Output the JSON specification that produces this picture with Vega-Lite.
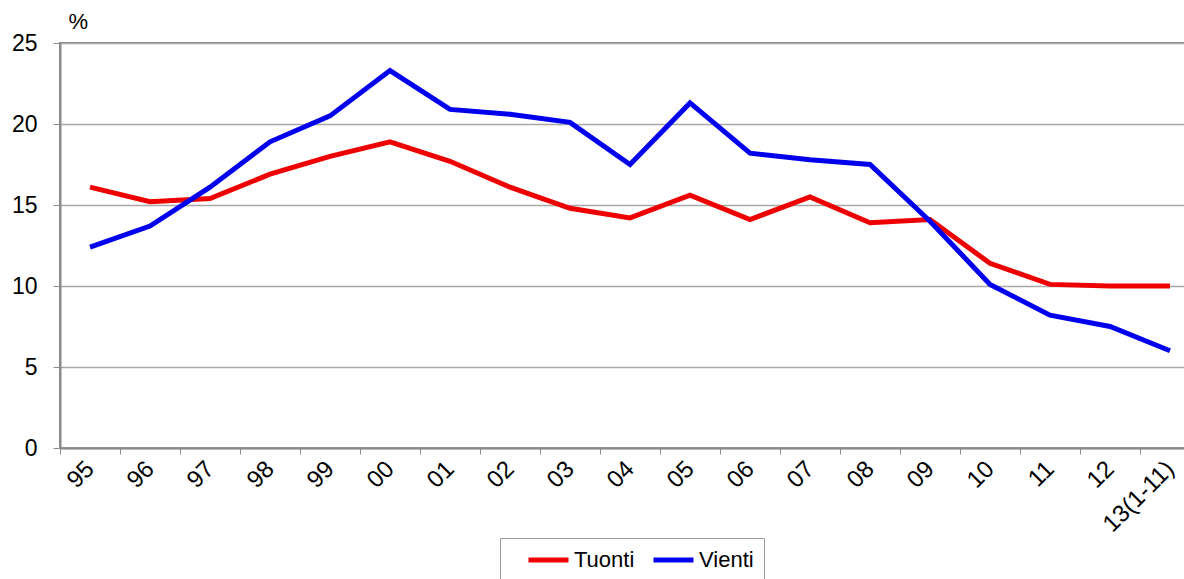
{
  "$schema": "https://vega.github.io/schema/vega-lite/v6.json",
  "autosize": {"type": "none"},
  "padding": {"left": 60, "top": 43, "right": 0, "bottom": 131},
  "width": 1140,
  "height": 405,
  "config": {
    "font": "Liberation Sans",
    "view": {"stroke": "#8a8a8a", "strokeWidth": 2}
  },
  "data": {
    "values": [
      {"year": "95", "series": "Tuonti", "value": 16.1},
      {"year": "96", "series": "Tuonti", "value": 15.2},
      {"year": "97", "series": "Tuonti", "value": 15.4},
      {"year": "98", "series": "Tuonti", "value": 16.9},
      {"year": "99", "series": "Tuonti", "value": 18.0},
      {"year": "00", "series": "Tuonti", "value": 18.9},
      {"year": "01", "series": "Tuonti", "value": 17.7},
      {"year": "02", "series": "Tuonti", "value": 16.1},
      {"year": "03", "series": "Tuonti", "value": 14.8},
      {"year": "04", "series": "Tuonti", "value": 14.2},
      {"year": "05", "series": "Tuonti", "value": 15.6},
      {"year": "06", "series": "Tuonti", "value": 14.1},
      {"year": "07", "series": "Tuonti", "value": 15.5},
      {"year": "08", "series": "Tuonti", "value": 13.9},
      {"year": "09", "series": "Tuonti", "value": 14.1},
      {"year": "10", "series": "Tuonti", "value": 11.4},
      {"year": "11", "series": "Tuonti", "value": 10.1},
      {"year": "12", "series": "Tuonti", "value": 10.0},
      {"year": "13(1-11)", "series": "Tuonti", "value": 10.0},
      {"year": "95", "series": "Vienti", "value": 12.4},
      {"year": "96", "series": "Vienti", "value": 13.7},
      {"year": "97", "series": "Vienti", "value": 16.1},
      {"year": "98", "series": "Vienti", "value": 18.9},
      {"year": "99", "series": "Vienti", "value": 20.5},
      {"year": "00", "series": "Vienti", "value": 23.3},
      {"year": "01", "series": "Vienti", "value": 20.9},
      {"year": "02", "series": "Vienti", "value": 20.6},
      {"year": "03", "series": "Vienti", "value": 20.1},
      {"year": "04", "series": "Vienti", "value": 17.5},
      {"year": "05", "series": "Vienti", "value": 21.3},
      {"year": "06", "series": "Vienti", "value": 18.2},
      {"year": "07", "series": "Vienti", "value": 17.8},
      {"year": "08", "series": "Vienti", "value": 17.5},
      {"year": "09", "series": "Vienti", "value": 14.0},
      {"year": "10", "series": "Vienti", "value": 10.1},
      {"year": "11", "series": "Vienti", "value": 8.2},
      {"year": "12", "series": "Vienti", "value": 7.5},
      {"year": "13(1-11)", "series": "Vienti", "value": 6.0}
    ]
  },
  "mark": {"type": "line", "strokeWidth": 5, "strokeJoin": "miter"},
  "encoding": {
    "x": {
      "field": "year",
      "type": "ordinal",
      "sort": null,
      "scale": {"type": "band", "paddingInner": 0, "paddingOuter": 0},
      "axis": {
        "title": null,
        "tickBand": "extent",
        "labelAngle": -45,
        "labelAlign": "right",
        "labelBaseline": "middle",
        "labelFontSize": 24,
        "labelColor": "#000",
        "labelPadding": 11,
        "labelOffset": 0,
        "domainColor": "#8a8a8a",
        "domainWidth": 2,
        "tickColor": "#8a8a8a",
        "tickSize": 6,
        "grid": false
      }
    },
    "y": {
      "field": "value",
      "type": "quantitative",
      "scale": {"domain": [0, 25], "nice": false},
      "axis": {
        "values": [0, 5, 10, 15, 20, 25],
        "title": "%",
        "titleAngle": 0,
        "titleAlign": "left",
        "titleBaseline": "middle",
        "titleX": 8,
        "titleY": -22,
        "titleFontSize": 22,
        "titleFontWeight": "normal",
        "titleColor": "#000",
        "labelFontSize": 23,
        "labelColor": "#000",
        "labelPadding": 16,
        "domainColor": "#8a8a8a",
        "domainWidth": 2,
        "tickColor": "#8a8a8a",
        "tickSize": 7,
        "gridColor": "#a8a8a8",
        "gridWidth": 1.5
      }
    },
    "color": {
      "field": "series",
      "type": "nominal",
      "scale": {"domain": ["Tuonti", "Vienti"], "range": ["#ee0000", "#0000ee"]},
      "legend": {
        "title": null,
        "orient": "none",
        "legendX": 440,
        "legendY": 495,
        "direction": "horizontal",
        "symbolType": "stroke",
        "symbolSize": 1600,
        "symbolStrokeWidth": 5,
        "symbolOffset": 16,
        "clipHeight": 24,
        "labelFontSize": 22,
        "labelColor": "#000",
        "labelOffset": 3,
        "columnPadding": 0,
        "strokeColor": "#999",
        "padding": 10
      }
    }
  }
}
